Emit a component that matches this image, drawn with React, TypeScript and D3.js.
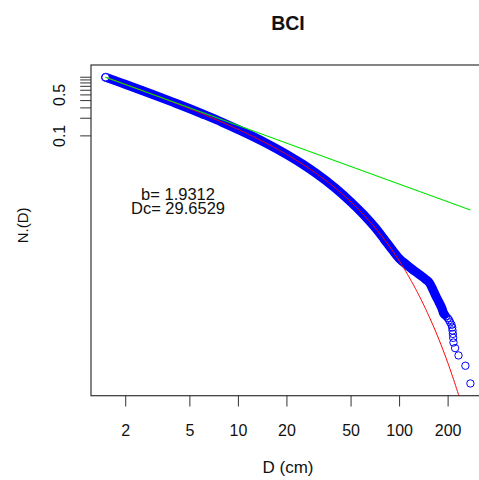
import React from "react";
import * as d3 from "d3";

// ---- data ----
const title = "BCI";
const xLabel = "D (cm)";
const yLabel = "N.(D)";

// diameter (cm) and cumulative fraction N.(D) of the observed points
const diameters = [
  1.5, 1.7, 2, 2.5, 3, 4, 5, 6, 8, 10, 12, 15, 20, 25, 30, 40, 50, 60, 70, 80,
  90, 100, 110, 120, 133, 145, 153, 160, 168, 176, 184, 187, 190, 194, 199, 203,
  206, 210, 212, 213, 214, 215, 216, 221, 232, 256, 275,
];
const fractions = [
  1.0, 0.884, 0.752, 0.601, 0.499, 0.369, 0.29, 0.236, 0.169, 0.128, 0.101,
  0.0743, 0.048, 0.033, 0.0235, 0.0128, 0.0074, 0.0045, 0.0028, 0.00175,
  0.00114, 0.0008, 0.00064, 0.00053, 0.00043, 0.000358, 0.000312, 0.000248,
  0.000185, 0.000144, 0.00011, 9.58e-5, 8.98e-5, 8.38e-5, 7.78e-5, 7.19e-5,
  6.59e-5, 5.99e-5, 5.39e-5, 4.79e-5, 4.19e-5, 3.59e-5, 2.99e-5, 2.4e-5,
  1.8e-5, 1.2e-5, 5.99e-6,
];
const bandMaxDiameter = 190; // beyond this the circles stand apart

const xTickValues = [2, 5, 10, 20, 50, 100, 200];
const xTickLabels = ["2", "5", "10", "20", "50", "100", "200"];
const yTickValues = [0.1, 0.2, 0.3, 0.4, 0.5, 0.6, 0.7, 0.8, 0.9, 1.0];
const yTickLabels = ["0.1", "", "", "", "0.5", "", "", "", "", ""];

const fitB = 1.9312;
const fitDc = 29.6529;
const powerSlope = -1.0;
const annotation = ["b= 1.9312", "Dc= 29.6529"];

// ---- layout ----
const W = 479;
const H = 480;
const plotLeft = 91;
const plotRight = 485;
const plotTop = 65;
const plotBottom = 395.7;
const FONT = "'Liberation Sans', Arial, Helvetica, sans-serif";

function rExpand(vals: number[]): [number, number] {
  const [a, b] = d3.extent(vals) as [number, number];
  const la = Math.log10(a);
  const lb = Math.log10(b);
  const pad = 0.04 * (lb - la);
  return [Math.pow(10, la - pad), Math.pow(10, lb + pad)];
}

export default function App() {
  const x = d3.scaleLog().domain(rExpand(diameters)).range([plotLeft, plotRight]);
  const y = d3.scaleLog().domain(rExpand(fractions)).range([plotBottom, plotTop]);

  const pts = diameters.map((d, i) => ({ d, n: fractions[i] }));
  const bandPts = pts.filter((p) => p.d <= bandMaxDiameter);

  const line = d3
    .line<{ d: number; n: number }>()
    .x((p) => x(p.d))
    .y((p) => y(p.n))
    .curve(d3.curveMonotoneX);

  const dMin = diameters[0];
  const dMax = diameters[diameters.length - 1];

  const fit = (D: number) =>
    Math.pow(D / dMin, 1 - fitB) * Math.exp(-(D - dMin) / fitDc);
  const fitPts = d3
    .range(0, 401)
    .map((i) => dMin * Math.pow(400 / dMin, i / 400))
    .map((d) => ({ d, n: fit(d) }));
  const linePlain = d3
    .line<{ d: number; n: number }>()
    .x((p) => x(p.d))
    .y((p) => y(p.n));

  const powerPts = [dMin, dMax].map((d) => ({
    d,
    n: fractions[0] * Math.pow(d / dMin, powerSlope),
  }));

  const cx = (plotLeft + plotRight) / 2;
  const cy = (plotTop + plotBottom) / 2;

  return (
    <svg
      width={W}
      height={H}
      style={{ position: "fixed", left: 0, top: 0, background: "#fff" }}
      fontFamily={FONT}
    >
      <rect x={0} y={0} width={W} height={H} fill="#fff" />
      <defs>
        <clipPath id="plotClip">
          <rect
            x={plotLeft}
            y={plotTop}
            width={plotRight - plotLeft}
            height={plotBottom - plotTop}
          />
        </clipPath>
      </defs>

      <g clipPath="url(#plotClip)">
        {/* dense band of overlapping circles */}
        <path
          d={line(bandPts) || ""}
          fill="none"
          stroke="#0000ff"
          strokeWidth={9}
          strokeLinecap="round"
          strokeLinejoin="round"
        />
        {pts.map((p, i) => (
          <circle
            key={i}
            cx={x(p.d)}
            cy={y(p.n)}
            r={3.7}
            fill={i === 0 ? "#fff" : "none"}
            stroke="#0000ff"
            strokeWidth={1}
          />
        ))}
        <path
          d={linePlain(fitPts) || ""}
          fill="none"
          stroke="#ff0000"
          strokeWidth={1}
        />
        <path
          d={linePlain(powerPts) || ""}
          fill="none"
          stroke="#00e400"
          strokeWidth={1.1}
        />
      </g>

      {/* frame */}
      <rect
        x={plotLeft}
        y={plotTop}
        width={plotRight - plotLeft}
        height={plotBottom - plotTop}
        fill="none"
        stroke="#333"
        strokeWidth={1.2}
      />

      {/* x axis */}
      {xTickValues.map((v, i) => (
        <g key={"xt" + i}>
          <line
            x1={x(v)}
            x2={x(v)}
            y1={plotBottom}
            y2={plotBottom + 10.8}
            stroke="#333"
            strokeWidth={1}
          />
          <text
            x={x(v)}
            y={436}
            textAnchor="middle"
            fontSize={16}
            fill="#111"
          >
            {xTickLabels[i]}
          </text>
        </g>
      ))}

      {/* y axis */}
      {yTickValues.map((v, i) => (
        <g key={"yt" + i}>
          <line
            x1={plotLeft}
            x2={plotLeft - 10.8}
            y1={y(v)}
            y2={y(v)}
            stroke="#333"
            strokeWidth={1}
          />
          {yTickLabels[i] && (
            <text
              transform={`translate(65,${y(v)}) rotate(-90)`}
              textAnchor="middle"
              fontSize={16}
              fill="#111"
            >
              {yTickLabels[i]}
            </text>
          )}
        </g>
      ))}

      {/* annotation */}
      <text x={178} y={199.5} textAnchor="middle" fontSize={16.5} fill="#111">
        {annotation[0]}
      </text>
      <text x={178} y={214} textAnchor="middle" fontSize={16.5} fill="#111">
        {annotation[1]}
      </text>

      {/* titles */}
      <text
        x={cx}
        y={30}
        textAnchor="middle"
        fontSize={19.5}
        fontWeight="bold"
        fill="#111"
      >
        {title}
      </text>
      <text x={cx} y={473} textAnchor="middle" fontSize={17} fill="#111">
        {xLabel}
      </text>
      <text
        transform={`translate(28,${cy - 5}) rotate(-90)`}
        textAnchor="middle"
        fontSize={15}
        fill="#111"
      >
        {yLabel}
      </text>
    </svg>
  );
}
